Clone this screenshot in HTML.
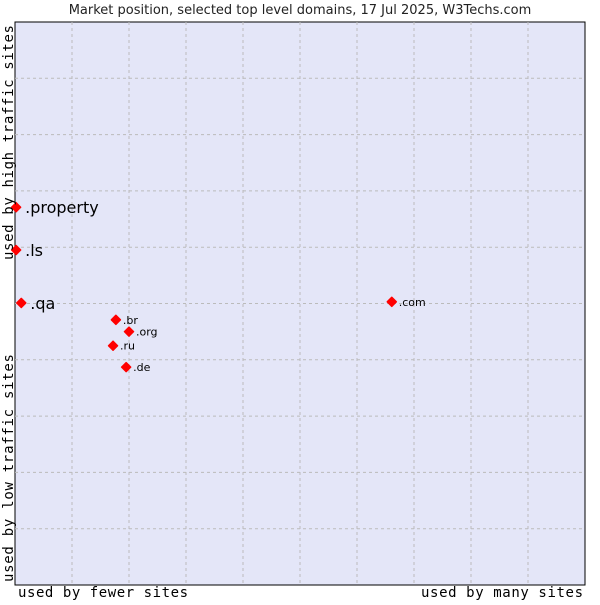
<!DOCTYPE html>
<html><head><meta charset="utf-8"><style>
body{margin:0;background:#fff;}
svg{font-family:"DejaVu Sans","Liberation Sans",sans-serif;}
.mono{font-family:"DejaVu Sans Mono","Liberation Mono",monospace;}
</style></head><body>
<svg id="chart" width="600" height="600">
<text x="300" y="14" text-anchor="middle" font-size="13" fill="#222">Market position, selected top level domains, 17 Jul 2025, W3Techs.com</text>
<rect x="15" y="22" width="570" height="563" fill="#e4e6f8" stroke="#000" stroke-width="1"/>
<g id="grid"></g>
<g id="points"></g>
<text class="mono" x="18" y="597" font-size="14" textLength="170" fill="#000">used by fewer sites</text>
<text class="mono" x="421" y="597" font-size="14" textLength="162" fill="#000">used by many sites</text>
<text class="mono" transform="translate(13,260) rotate(-90)" font-size="14" textLength="235" fill="#000">used by high traffic sites</text>
<text class="mono" transform="translate(13,582) rotate(-90)" font-size="14" textLength="228" fill="#000">used by low traffic sites</text>
</svg>
<script>
const labels=[".property",".ls",".qa",".com",".br",".org",".ru",".de"];
const xs=[0.2,0.2,1.1,66.1,17.7,20,17.2,19.5];
const ys=[67.1,59.5,50.1,50.3,47.1,45,42.5,38.7];
const big=[true,true,true,false,false,false,false,false];
const L=15,T=22,W=570,H=563;
const sx=v=>L+v/100*W, sy=v=>T+H-v/100*H;
const ns="http://www.w3.org/2000/svg";
const g=document.getElementById('grid');
for(let i=1;i<10;i++){
  const a=document.createElementNS(ns,'line');
  a.setAttribute('x1',sx(i*10));a.setAttribute('x2',sx(i*10));a.setAttribute('y1',T);a.setAttribute('y2',T+H);
  a.setAttribute('stroke','#bbb');a.setAttribute('stroke-dasharray','3,3');
  
  
  g.appendChild(a);
  const b=document.createElementNS(ns,'line');
  b.setAttribute('y1',sy(i*10));b.setAttribute('y2',sy(i*10));b.setAttribute('x1',L);b.setAttribute('x2',L+W);
  b.setAttribute('stroke','#bbb');b.setAttribute('stroke-dasharray','3,3');
  
  
  g.appendChild(b);
}
const p=document.getElementById('points');
labels.forEach((l,i)=>{
  const x=sx(xs[i]),y=sy(ys[i]);
  const d=document.createElementNS(ns,'path');
  d.setAttribute('d',`M${x},${y-4.5}L${x+4.5},${y}L${x},${y+4.5}L${x-4.5},${y}Z`);
  d.setAttribute('fill','#f00');
  d.setAttribute('stroke','#f00');
  d.setAttribute('stroke-width','1.5');
  d.setAttribute('stroke-linejoin','round');
  
  
  p.appendChild(d);
  const t=document.createElementNS(ns,'text');
  t.setAttribute('x',x+(big[i]?9:7));t.setAttribute('y',y+(big[i]?6:4));
  t.setAttribute('font-size',big[i]?16:11);
  t.textContent=l;
  
  
  p.appendChild(t);
});
</script>
</body></html>
